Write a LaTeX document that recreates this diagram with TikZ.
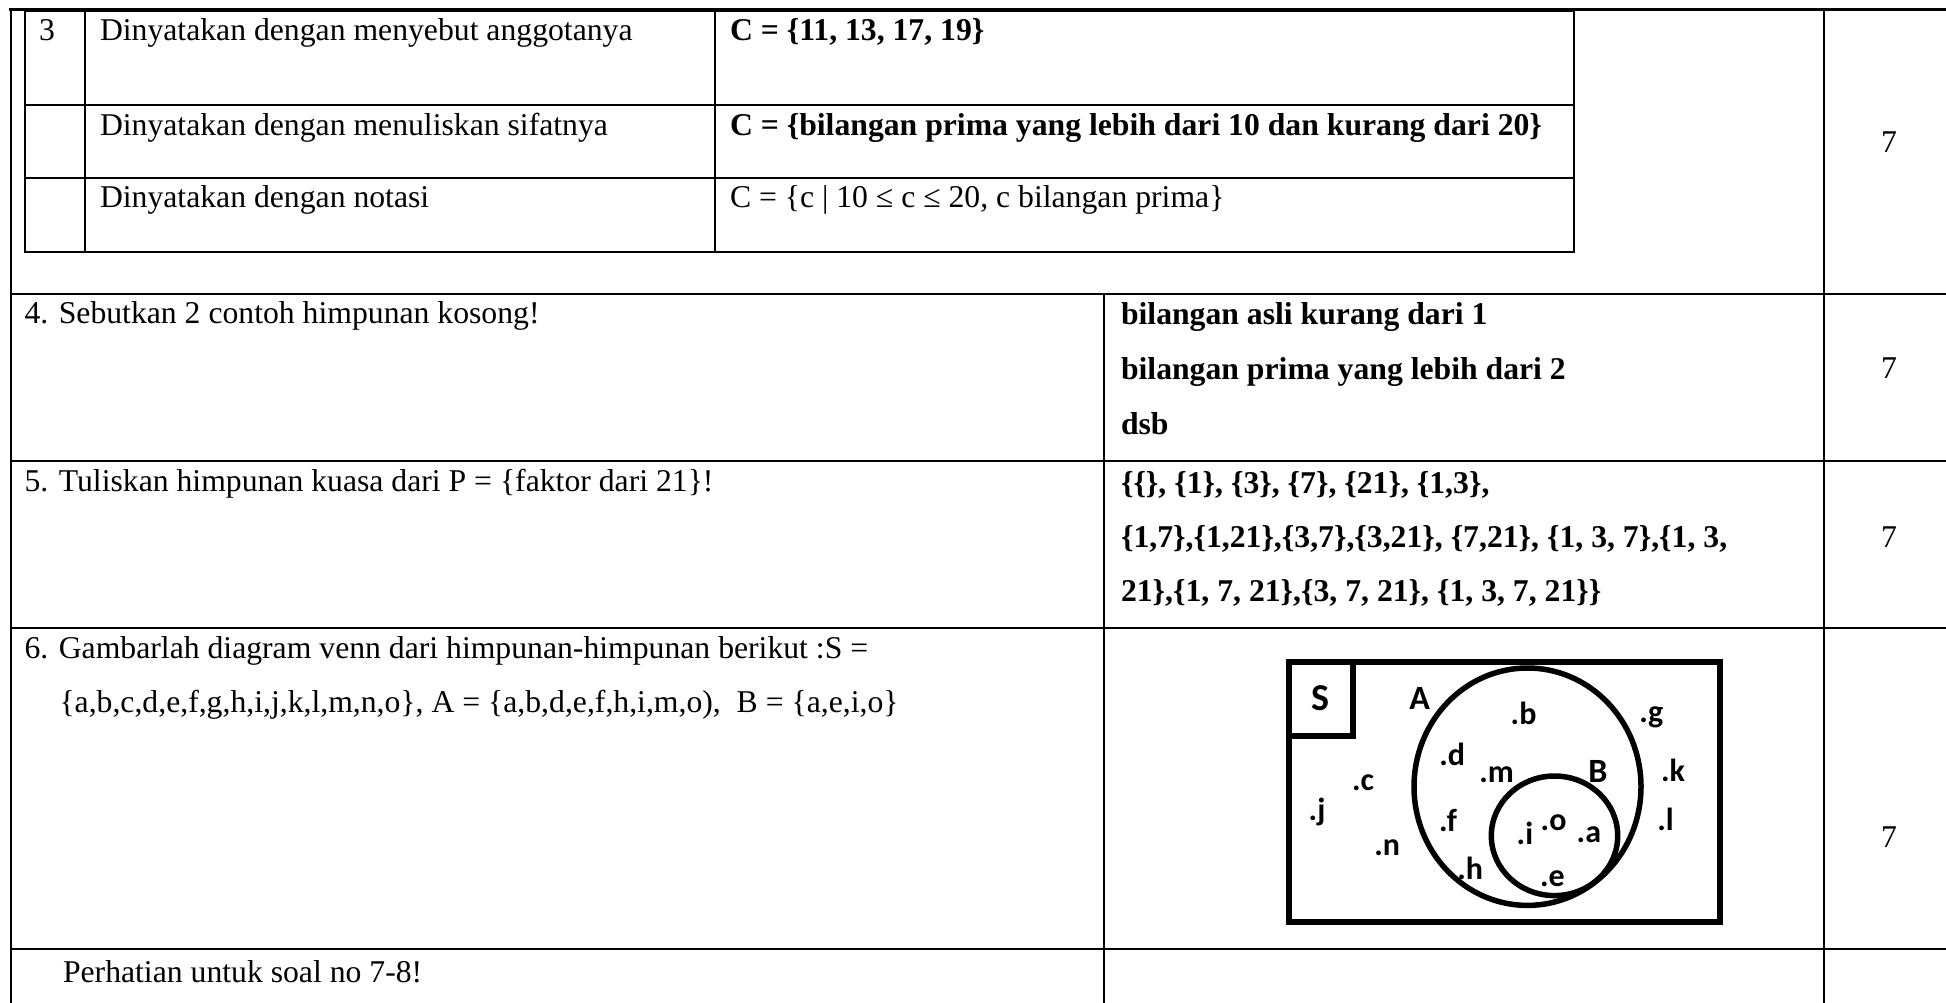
\documentclass[tikz,border=0pt]{standalone}
\usepackage{fontspec}
\setmainfont{Liberation Serif}
\newfontfamily\vennfont{Carlito}
\begin{document}
\begin{tikzpicture}[x=1pt,y=-1pt,
  grid/.style={line width=2pt,line cap=rect},
  topgrid/.style={line width=2.6pt,line cap=rect},
  txt/.style={inner sep=0pt,outer sep=0pt,font=\fontsize{31.7}{38}\selectfont},
  btxt/.style={txt,font=\fontsize{31.7}{38}\selectfont\bfseries},
  vline/.style={line width=6pt},
  cline/.style={line width=5.5pt},
  vl/.style={inner sep=0pt,outer sep=0pt,font=\vennfont\bfseries\fontsize{32}{36}\selectfont},
  vcap/.style={inner sep=0pt,outer sep=0pt,font=\vennfont\bfseries\fontsize{34}{38}\selectfont}]
\useasboundingbox (0,0) rectangle (1946,1003);
% outer table
\draw[topgrid] (10.7,9.5) -- (1946,9.5);
\draw[grid] (10.7,9.5) -- (10.7,1003);
\draw[grid] (1824,9.5) -- (1824,1003);
\draw[grid] (1104,294) -- (1104,1003);
\foreach \yy in {294,461,628,949} \draw[grid] (10.7,\yy) -- (1946,\yy);
% inner table (question 3)
\draw[topgrid] (25,10.7) -- (1574,10.7);
\draw[grid] (25,10.7) -- (25,252) -- (1574,252) -- (1574,10.7);
\draw[grid] (85,10.7) -- (85,252);
\draw[grid] (715,10.7) -- (715,252);
\draw[grid] (25,105) -- (1574,105);
\draw[grid] (25,178) -- (1574,178);
% texts question 3
\node[txt,anchor=base west] (n3) at (39,41) {3};
\node[txt,anchor=base west] (d1) at (100,41) {Dinyatakan dengan menyebut anggotanya};
\node[txt,anchor=base west] (d2) at (100,135.5) {Dinyatakan dengan menuliskan sifatnya};
\node[txt,anchor=base west] (d3) at (100,207.3) {Dinyatakan dengan notasi};
\node[btxt,anchor=base west] (c1) at (730,41) {C = \{11, 13, 17, 19\}};
\node[btxt,anchor=base west] (c2) at (730,135.5) {C = \{bilangan prima yang lebih dari 10 dan kurang dari 20\}};
\node[txt,anchor=base west] (c3) at (730,207.3) {C = \{c | 10 ≤ c ≤ 20, c bilangan prima\}};
\node[txt,anchor=base] (s3) at (1889,153) {7};
% question 4
\node[txt,anchor=base west] (q4) at (24.5,323.5) {4. Sebutkan 2 contoh himpunan kosong!};
\node[btxt,anchor=base west] (a4a) at (1121,324) {bilangan asli kurang dari 1};
\node[btxt,anchor=base west] (a4b) at (1121,379) {bilangan prima yang lebih dari 2};
\node[btxt,anchor=base west] (a4c) at (1121,434) {dsb};
\node[txt,anchor=base] (s4) at (1889,378) {7};
% question 5
\node[txt,anchor=base west] (q5) at (24.5,491) {5. Tuliskan himpunan kuasa dari P = \{faktor dari 21\}!};
\node[btxt,anchor=base west] (a5a) at (1121,493) {\{\{\}, \{1\}, \{3\}, \{7\}, \{21\}, \{1,3\},};
\node[btxt,anchor=base west] (a5b) at (1121,547) {\{1,7\},\{1,21\},\{3,7\},\{3,21\}, \{7,21\}, \{1, 3, 7\},\{1, 3,};
\node[btxt,anchor=base west] (a5c) at (1121,601.5) {21\},\{1, 7, 21\},\{3, 7, 21\}, \{1, 3, 7, 21\}\}};
\node[txt,anchor=base] (s5) at (1889,547) {7};
% question 6
\node[txt,anchor=base west] (q6a) at (24.5,658) {6. Gambarlah diagram venn dari himpunan-himpunan berikut :S =};
\node[txt,anchor=base west] (q6b) at (59.5,712) {\{a,b,c,d,e,f,g,h,i,j,k,l,m,n,o\}, A = \{a,b,d,e,f,h,i,m,o),\ \ B = \{a,e,i,o\}};
\node[txt,anchor=base] (s6) at (1889,847) {7};
% venn diagram
\draw[vline] (1289,662) rectangle (1720,922);
\draw[vline] (1289,736) -- (1353,736) -- (1353,662);
\draw[cline] (1527.5,786.7) ellipse [x radius=113.5pt, y radius=118.7pt];
\draw[cline] (1554.5,835.8) ellipse [x radius=63.2pt, y radius=59.8pt];
\node[vcap,anchor=base,font=\vennfont\bfseries\fontsize{38}{40}\selectfont] (vS) at (1320,710) {S};
\node[vcap,anchor=base west] (vA) at (1409.3,709.3) {A};
\node[vcap,anchor=base west] (vB) at (1588.3,782.7) {B};
\node[vl,anchor=base west] (vb) at (1510.7,724) {.b};
\node[vl,anchor=base west] (vg) at (1639.3,722.7) {.g};
\node[vl,anchor=base west] (vd) at (1439.3,765) {.d};
\node[vl,anchor=base west] (vm) at (1479.3,782.3) {.m};
\node[vl,anchor=base west] (vk) at (1661,781.7) {.k};
\node[vl,anchor=base west] (vc) at (1352,790) {.c};
\node[vl,anchor=base west] (vj) at (1308.7,820.7) {.j};
\node[vl,anchor=base west] (vf) at (1439,831) {.f};
\node[vl,anchor=base west] (vi) at (1516.7,844) {.i};
\node[vl,anchor=base west] (vo) at (1540.7,830.7) {.o};
\node[vl,anchor=base west] (va) at (1576.7,842.7) {.a};
\node[vl,anchor=base west] (vll) at (1657.3,830.7) {.l};
\node[vl,anchor=base west] (vn) at (1374.3,855) {.n};
\node[vl,anchor=base west] (vh) at (1457.3,879.3) {.h};
\node[vl,anchor=base west] (ve) at (1540,886) {.e};
% last row
\node[txt,anchor=base west] (q7) at (63,982) {Perhatian untuk soal no 7-8!};
\end{tikzpicture}
\end{document}
